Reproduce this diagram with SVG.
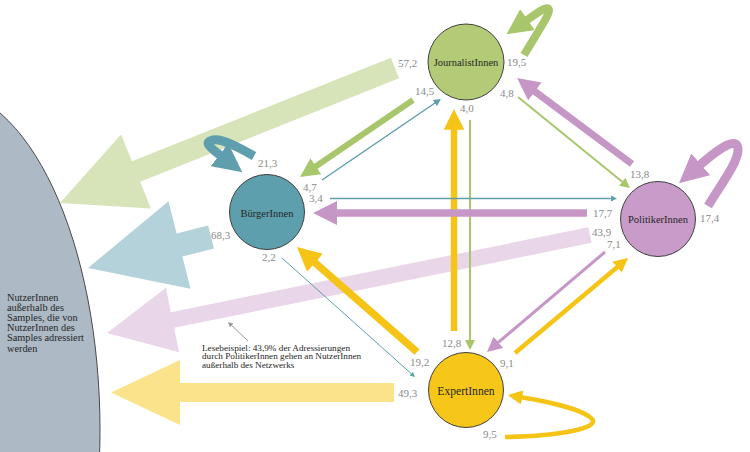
<svg xmlns="http://www.w3.org/2000/svg" width="750" height="452" viewBox="0 0 750 452">
<style>
  .num{font-family:"Liberation Serif","DejaVu Serif",serif;font-size:11px;fill:#8a8a8a}
  .nlab{font-family:"Liberation Serif","DejaVu Serif",serif;font-size:10.5px;fill:#262626;text-anchor:middle}
  .node{stroke:#3f3f3f;stroke-width:1}
  .ln{fill:none;stroke-linecap:butt}
  .g{stroke:#a8c66c}.t{stroke:#5f9fad}.p{stroke:#c696c6}.y{stroke:#f6c416}
  .txt{font-family:"Liberation Serif","DejaVu Serif",serif;fill:#262626}
</style>
<defs>
  <marker id="gK" viewBox="0 0 3.2 3.2" refX="0.2" refY="1.6" markerWidth="3.2" markerHeight="3.2" orient="auto" markerUnits="strokeWidth"><path d="M0,0 L3.2,1.6 L0,3.2 z" fill="#a8c66c"/></marker>
  <marker id="tK" viewBox="0 0 3.2 3.2" refX="0.2" refY="1.6" markerWidth="3.2" markerHeight="3.2" orient="auto" markerUnits="strokeWidth"><path d="M0,0 L3.2,1.6 L0,3.2 z" fill="#5f9fad"/></marker>
  <marker id="pK" viewBox="0 0 3.2 3.2" refX="0.2" refY="1.6" markerWidth="3.2" markerHeight="3.2" orient="auto" markerUnits="strokeWidth"><path d="M0,0 L3.2,1.6 L0,3.2 z" fill="#c696c6"/></marker>
  <marker id="yK" viewBox="0 0 3.2 3.2" refX="0.2" refY="1.6" markerWidth="3.2" markerHeight="3.2" orient="auto" markerUnits="strokeWidth"><path d="M0,0 L3.2,1.6 L0,3.2 z" fill="#f6c416"/></marker>
  <marker id="gT" viewBox="0 0 5 5" refX="0.2" refY="2.5" markerWidth="5" markerHeight="5" orient="auto" markerUnits="strokeWidth"><path d="M0,0 L5,2.5 L0,5 z" fill="#a8c66c"/></marker>
  <marker id="tT" viewBox="0 0 5 5" refX="0.2" refY="2.5" markerWidth="5" markerHeight="5" orient="auto" markerUnits="strokeWidth"><path d="M0,0 L5,2.5 L0,5 z" fill="#5f9fad"/></marker>
  <marker id="pT" viewBox="0 0 5 5" refX="0.2" refY="2.5" markerWidth="5" markerHeight="5" orient="auto" markerUnits="strokeWidth"><path d="M0,0 L5,2.5 L0,5 z" fill="#c696c6"/></marker>
  <marker id="aT" viewBox="0 0 5 5" refX="0.2" refY="2.5" markerWidth="5" markerHeight="5" orient="auto" markerUnits="strokeWidth"><path d="M0,0 L5,2.5 L0,5 z" fill="#9a9a9a"/></marker>
</defs>
<rect width="750" height="452" fill="#ffffff"/>

<g id="outside">
  <ellipse cx="-60" cy="430" rx="160" ry="342" fill="#adb9c5" stroke="#4a4a4a" stroke-width="1"/>
  <text class="txt" font-size="10.3">
    <tspan x="7" y="300.5">NutzerInnen</tspan>
    <tspan x="7" y="310.7">außerhalb des</tspan>
    <tspan x="7" y="320.9">Samples, die von</tspan>
    <tspan x="7" y="331.1">NutzerInnen des</tspan>
    <tspan x="7" y="341.3">Samples adressiert</tspan>
    <tspan x="7" y="351.5">werden</tspan>
  </text>
</g>

<g id="connectors">
  <!-- arrows to users outside the sample -->
  <polygon fill="#d7e4b9" points="390.9,57.8 131.9,161.3 121,134.4 60,203 151,208.6 140.1,181.7 399.1,78.2"/>
  <polygon fill="#b3d2d9" points="208.1,225.4 176.6,233.4 168.5,201.3 88,268 190.5,288.7 182.4,256.6 213.9,248.6"/>
  <polygon fill="#ead6e9" points="588.4,227.2 170.9,312.2 165.9,287.7 107,333 179.1,352.3 174.1,327.8 591.6,242.8"/>
  <polygon fill="#fbe38b" points="394,383 180,383 180,360 111,392.5 180,425 180,402 394,402"/>

  <!-- self loops -->
  <path class="ln g" stroke-width="8" marker-end="url(#gK)" d="M524,55 C537,33 550,14 549,10 C548,5 540,11 526.2,20.6"/>
  <path class="ln p" stroke-width="9" marker-end="url(#pK)" d="M708,206 C722,183 738,162 738,150 C738,136 722,146 699.4,165.5"/>
  <path class="ln t" stroke-width="9" marker-end="url(#tK)" d="M254,156 C240,148 222,138 213,140 C204,142 208,146 220.9,155.9"/>
  <path class="ln y" stroke-width="4.5" marker-end="url(#yK)" d="M505,437 C560,436 600,428 592,419 C584,410 550,402 521.3,397.3"/>

  <!-- between groups -->
  <path class="ln g" stroke-width="6" marker-end="url(#gK)" d="M413,100 L314.9,166.9"/>
  <path class="ln t" stroke-width="1.5" marker-end="url(#tT)" d="M322,180 L435,103"/>
  <path class="ln g" stroke-width="2" marker-end="url(#gT)" d="M518,97 L622.5,182"/>
  <path class="ln g" stroke-width="2" marker-end="url(#gT)" d="M470,120 L470,340.4"/>
  <path class="ln y" stroke-width="6.5" marker-end="url(#yK)" d="M454,331 L454,128.5"/>
  <path class="ln p" stroke-width="7" marker-end="url(#pK)" d="M632,164 L533.8,90.6"/>
  <path class="ln p" stroke-width="7.5" marker-end="url(#pK)" d="M587,213 L335.5,213"/>
  <path class="ln p" stroke-width="3" marker-end="url(#pT)" d="M605,252 L498,342.7"/>
  <path class="ln t" stroke-width="1.3" marker-end="url(#tT)" d="M330,198.5 L610.8,198.5"/>
  <path class="ln t" stroke-width="1" marker-end="url(#tT)" d="M282,258 L411.4,373.8"/>
  <path class="ln y" stroke-width="7.5" marker-end="url(#yK)" d="M417,352 L313.9,261.8"/>
  <path class="ln y" stroke-width="4.5" marker-end="url(#yK)" d="M515,353 L617.7,266.7"/>
</g>

<g id="journalisten">
  <circle class="node" cx="466" cy="62" r="38" fill="#b3cb76"/>
  <text class="nlab" x="466" y="66">JournalistInnen</text>
</g>
<g id="buerger">
  <circle class="node" cx="267" cy="212" r="37.5" fill="#5e9fad"/>
  <text class="nlab" x="267" y="216.5">BürgerInnen</text>
</g>
<g id="politiker">
  <circle class="node" cx="658" cy="219" r="37.5" fill="#c89bc8"/>
  <text class="nlab" x="658" y="223">PolitikerInnen</text>
</g>
<g id="experten">
  <circle class="node" cx="466" cy="390" r="37.5" fill="#f6c619"/>
  <text class="nlab" x="466" y="395" style="font-size:11.6px">ExpertInnen</text>
</g>

<g id="labels">
  <text class="num" x="398" y="67">57,2</text>
  <text class="num" x="507" y="66">19,5</text>
  <text class="num" x="415" y="95">14,5</text>
  <text class="num" x="460" y="112">4,0</text>
  <text class="num" x="500" y="97">4,8</text>
  <text class="num" x="258" y="167">21,3</text>
  <text class="num" x="303" y="191">4,7</text>
  <text class="num" x="309" y="202">3,4</text>
  <text class="num" x="211" y="239">68,3</text>
  <text class="num" x="262" y="261">2,2</text>
  <text class="num" x="630" y="178">13,8</text>
  <text class="num" x="593" y="217">17,7</text>
  <text class="num" x="592" y="236">43,9</text>
  <text class="num" x="607" y="248">7,1</text>
  <text class="num" x="700" y="222">17,4</text>
  <text class="num" x="442" y="347">12,8</text>
  <text class="num" x="410" y="366">19,2</text>
  <text class="num" x="500" y="367">9,1</text>
  <text class="num" x="398" y="397">49,3</text>
  <text class="num" x="483" y="438">9,5</text>
</g>

<g id="annotation">
  <path fill="none" stroke="#9a9a9a" stroke-width="1" marker-end="url(#aT)" d="M248,341 L231.5,325.3"/>
  <text class="txt" font-size="9.2">
    <tspan x="202" y="350.5">Lesebeispiel: 43,9% der Adressierungen</tspan>
    <tspan x="202" y="359.3">durch PolitikerInnen gehen an NutzerInnen</tspan>
    <tspan x="202" y="368.1">außerhalb des Netzwerks</tspan>
  </text>
</g>
</svg>
